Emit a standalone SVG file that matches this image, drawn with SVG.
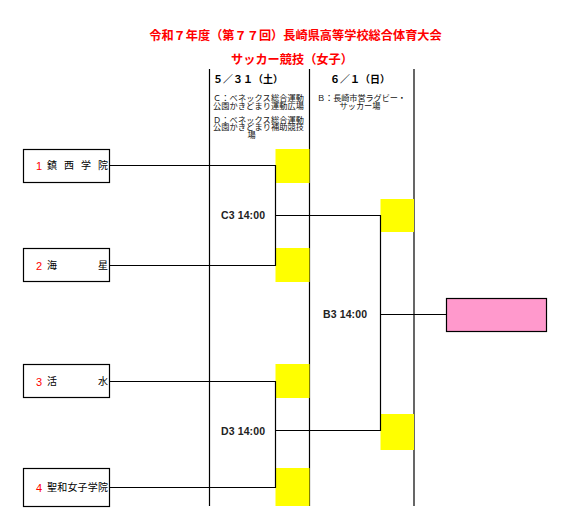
<svg xmlns="http://www.w3.org/2000/svg" width="561" height="525" viewBox="0 0 561 525">
<style>
.t{font-family:"Liberation Sans","Noto Sans CJK JP",sans-serif;}
.title{font-size:12.2px;font-weight:bold;fill:#ff0000;text-anchor:middle;}
.hdr{font-size:10px;font-weight:bold;fill:#000;}
.sm{font-size:8.2px;fill:#111;}
.team{font-size:10px;fill:#000;}
.num{font-size:11px;fill:#ff0000;}
.match{font-size:10.5px;font-weight:bold;fill:#222;}
.box{fill:#fff;stroke:#000;stroke-width:1.2;}
.yel{fill:#ffff00;stroke:none;}
.ln{stroke:#000;stroke-width:1.2;fill:none;}
</style>
<rect width="561" height="525" fill="#fff"/>
<g id="titles" class="t">
<text class="title" x="295.5" y="40">令和７年度（第７７回）長崎県高等学校総合体育大会</text>
<text class="title" x="292" y="64">サッカー競技（女子）</text>
</g>
<g id="col-lines">
<line class="ln" x1="209.5" y1="69" x2="209.5" y2="506"/>
<line class="ln" x1="309.5" y1="69" x2="309.5" y2="506"/>
<line class="ln" x1="414" y1="69" x2="414" y2="506"/>
</g>
<g id="headers" class="t">
<text class="hdr" x="213" y="83">５／３１（土）</text>
<text class="hdr" x="360" y="83" text-anchor="middle">６／１（日）</text>
<text class="sm" x="213" y="101" textLength="91" lengthAdjust="spacing">Ｃ：ベネックス総合運動</text>
<text class="sm" x="213" y="109" textLength="91" lengthAdjust="spacing">公園かきどまり運動広場</text>
<text class="sm" x="213" y="122.5" textLength="91" lengthAdjust="spacing">Ｄ：ベネックス総合運動</text>
<text class="sm" x="213" y="130" textLength="91" lengthAdjust="spacing">公園かきどまり補助競技</text>
<text class="sm" x="251.7" y="137.5" text-anchor="middle">場</text>
<text class="sm" x="317" y="101" textLength="89" lengthAdjust="spacing">Ｂ：長崎市営ラグビー・</text>
<text class="sm" x="360" y="109" text-anchor="middle">サッカー場</text>
</g>
<g id="yellow">
<rect class="yel" x="275.5" y="149" width="34" height="34"/>
<rect class="yel" x="275.5" y="248" width="34" height="34"/>
<rect class="yel" x="275.5" y="364" width="34" height="34"/>
<rect class="yel" x="275.5" y="468" width="34" height="38"/>
<rect class="yel" x="380.5" y="199" width="33.5" height="33"/>
<rect class="yel" x="380.5" y="414" width="33.5" height="36"/>
</g>
<g id="connectors">
<polyline class="ln" points="109.5,165.5 275.5,165.5 275.5,265.5 109.5,265.5"/>
<polyline class="ln" points="275.5,215.5 380.5,215.5 380.5,430.5 275.5,430.5"/>
<polyline class="ln" points="109.5,381.5 275.5,381.5 275.5,487.5 109.5,487.5"/>
<line class="ln" x1="380.5" y1="314.5" x2="446.5" y2="314.5"/>
</g>
<g id="team1" class="t">
<rect class="box" x="23.5" y="149.5" width="86" height="33"/>
<text class="num" x="36" y="169.5">1</text>
<text class="team" x="47" y="169">鎮</text>
<text class="team" x="64" y="169">西</text>
<text class="team" x="81" y="169">学</text>
<text class="team" x="98" y="169">院</text>
</g>
<g id="team2" class="t">
<rect class="box" x="23.5" y="248.5" width="86" height="33"/>
<text class="num" x="36" y="269.5">2</text>
<text class="team" x="47" y="269">海</text>
<text class="team" x="98" y="269">星</text>
</g>
<g id="team3" class="t">
<rect class="box" x="23.5" y="364.5" width="86" height="33"/>
<text class="num" x="36" y="385.5">3</text>
<text class="team" x="47" y="385">活</text>
<text class="team" x="98" y="385">水</text>
</g>
<g id="team4" class="t">
<rect class="box" x="23.5" y="468.5" width="86" height="38"/>
<text class="num" x="36" y="491.5">4</text>
<text class="team" x="47" y="491" textLength="61" lengthAdjust="spacing">聖和女子学院</text>
</g>
<g id="matches" class="t">
<text class="match" x="221" y="219" textLength="44" lengthAdjust="spacing">C3 14:00</text>
<text class="match" x="221" y="435" textLength="44" lengthAdjust="spacing">D3 14:00</text>
<text class="match" x="323" y="318" textLength="44" lengthAdjust="spacing">B3 14:00</text>
</g>
<g id="winner">
<rect x="446.5" y="298.5" width="100" height="33" fill="#ff99cc" stroke="#000" stroke-width="1.2"/>
</g>
</svg>
